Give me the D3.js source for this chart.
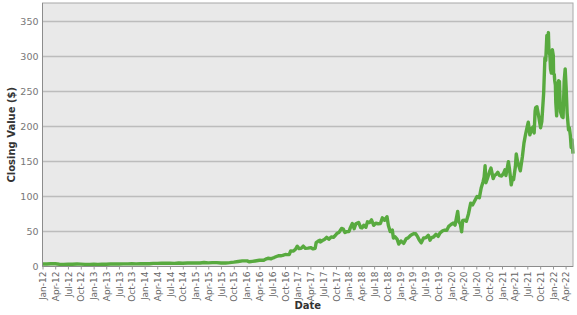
<!DOCTYPE html>
<html>
<head>
<meta charset="utf-8">
<script src="https://cdn.jsdelivr.net/npm/d3@7"></script>
<style>
  html, body { margin: 0; padding: 0; background: #fff; }
  svg { display: block; }
</style>
</head>
<body>
<div id="chart"></div>
<script>
// Closing values, split-adjusted, sampled from the daily series
const dates = [
  "2012-01-03","2012-02-01","2012-03-01","2012-04-02","2012-05-01","2012-06-01","2012-07-02","2012-08-01","2012-09-04","2012-10-01","2012-11-01","2012-12-03",
  "2013-01-02","2013-02-01","2013-03-01","2013-04-01","2013-05-01","2013-06-03","2013-07-01","2013-08-01","2013-09-03","2013-10-01","2013-11-01","2013-12-02",
  "2014-01-02","2014-02-03","2014-03-03","2014-04-01","2014-05-01","2014-06-02","2014-07-01","2014-08-01","2014-09-02","2014-10-01","2014-11-03","2014-12-01",
  "2015-01-02","2015-02-02","2015-03-02","2015-04-01","2015-05-01","2015-06-01","2015-07-01","2015-08-03","2015-09-01","2015-10-01","2015-11-02","2015-12-01",
  "2016-01-04","2016-01-20","2016-02-11","2016-03-01","2016-04-01","2016-04-22","2016-05-02","2016-05-16","2016-06-01","2016-06-24","2016-07-01","2016-07-15",
  "2016-08-01","2016-08-15","2016-09-01","2016-09-15","2016-10-03","2016-10-17","2016-11-01","2016-11-11","2016-12-01","2016-12-15","2016-12-28",
  "2017-01-10","2017-01-24","2017-02-09","2017-02-24","2017-03-15","2017-04-03","2017-04-20","2017-05-05","2017-05-12","2017-05-25","2017-06-08","2017-06-12",
  "2017-06-26","2017-07-10","2017-07-26","2017-08-11","2017-08-28","2017-09-12","2017-09-26","2017-10-10","2017-10-24","2017-11-10","2017-11-22","2017-12-04","2017-12-18",
  "2018-01-02","2018-01-12","2018-01-26","2018-02-08","2018-02-20","2018-03-12","2018-03-27","2018-04-06","2018-04-18","2018-05-03","2018-05-14","2018-05-30",
  "2018-06-12","2018-06-28","2018-07-13","2018-07-30","2018-08-15","2018-08-29","2018-09-14","2018-10-01","2018-10-11","2018-10-24","2018-11-08","2018-11-16",
  "2018-11-28","2018-12-12","2018-12-24",
  "2019-01-09","2019-01-28","2019-02-15","2019-03-01","2019-03-20","2019-04-12","2019-04-24","2019-05-08","2019-05-20","2019-06-03","2019-06-20","2019-07-05",
  "2019-07-24","2019-08-05","2019-08-16","2019-08-30","2019-09-16","2019-10-02","2019-10-16","2019-11-06","2019-11-20","2019-12-03","2019-12-17",
  "2020-01-02","2020-01-17","2020-01-31","2020-02-19","2020-02-27","2020-03-09","2020-03-18","2020-03-26","2020-04-09","2020-04-21","2020-05-06","2020-05-22",
  "2020-06-05","2020-06-19","2020-07-06","2020-07-23","2020-08-05","2020-08-19","2020-08-26","2020-09-02","2020-09-08","2020-09-21","2020-10-05","2020-10-14",
  "2020-10-30","2020-11-09","2020-11-20","2020-12-02","2020-12-15","2020-12-29",
  "2021-01-12","2021-01-22","2021-01-29","2021-02-16","2021-02-23","2021-03-04","2021-03-08","2021-03-18","2021-03-25","2021-04-07","2021-04-13","2021-04-22",
  "2021-05-04","2021-05-12","2021-05-27","2021-06-07","2021-06-18","2021-07-01","2021-07-08","2021-07-19","2021-08-02","2021-08-12","2021-08-19","2021-08-26",
  "2021-08-30","2021-09-08","2021-09-20","2021-10-04","2021-10-13","2021-10-26","2021-11-04","2021-11-10","2021-11-18","2021-11-23","2021-11-29","2021-12-03",
  "2021-12-10","2021-12-14","2021-12-20","2021-12-27",
  "2022-01-03","2022-01-05","2022-01-10","2022-01-13","2022-01-18","2022-01-21","2022-01-27","2022-02-02","2022-02-10","2022-02-16","2022-02-23","2022-03-07",
  "2022-03-14","2022-03-22","2022-03-29","2022-04-05","2022-04-12","2022-04-22","2022-04-28","2022-05-05","2022-05-11","2022-05-17","2022-05-24"
];
const closes = [
  3.5,3.6,3.85,3.85,3.3,3.1,3.45,3.3,3.5,3.35,3.0,3.05,
  3.15,3.1,3.15,3.2,3.5,3.6,3.55,3.7,3.8,3.9,3.8,3.9,
  3.95,3.85,4.5,4.5,4.6,4.8,4.65,4.5,4.9,4.6,4.9,5.2,
  5.0,5.0,5.7,5.2,5.5,5.5,5.0,5.0,5.5,6.2,7.1,8.0,
  8.0,6.7,7.3,7.9,8.9,9.1,8.9,10.5,11.7,11.0,11.8,12.8,
  14.3,15.3,15.4,15.8,17.1,16.9,17.2,22.3,22.0,24.6,29.0,
  25.5,25.8,29.0,25.8,26.3,27.0,25.1,26.0,34.0,35.9,37.5,35.0,
  37.0,38.5,41.6,39.0,42.2,41.5,44.2,47.5,49.0,54.3,53.4,48.5,49.7,
  49.9,55.4,61.4,54.0,60.8,62.8,55.4,55.0,58.9,56.0,63.7,62.8,
  66.5,58.7,61.7,61.0,61.3,69.4,66.0,71.0,58.5,49.8,52.0,40.6,
  42.3,39.2,32.0,
  36.5,33.0,39.5,40.8,44.6,47.0,46.7,42.6,37.7,33.7,40.8,40.8,
  44.5,37.5,41.3,42.1,45.9,43.0,47.9,51.3,52.0,51.6,57.3,
  59.9,61.9,59.1,78.6,64.0,60.5,49.5,65.8,66.2,64.6,75.0,90.4,
  88.0,93.5,100.0,98.2,112.0,121.3,127.5,143.7,119.5,127.1,136.0,140.4,
  125.4,130.0,131.4,134.5,129.6,129.2,
  133.0,138.0,129.9,149.6,140.0,124.5,116.5,127.0,124.0,143.0,160.5,150.0,
  142.0,136.5,157.0,176.0,188.0,200.0,206.0,187.8,197.0,199.5,190.5,222.0,
  226.8,228.0,215.0,198.0,207.0,247.2,297.5,294.0,329.8,317.0,333.8,306.0,
  301.0,282.0,276.0,309.5,
  301.2,275.0,274.0,265.5,259.0,233.7,215.0,251.0,265.0,264.0,221.0,213.5,
  212.6,265.0,282.0,255.0,219.0,195.0,197.8,187.0,169.8,181.0,161.0
];
const yTicks = [0, 50, 100, 150, 200, 250, 300, 350];
const xStart = "2012-01-01";
const xTickFormat = "%b-%y";

const W = 577, H = 315;
const margin = { top: 3, right: 4, bottom: 48.5, left: 42.5 };
const width = W - margin.left - margin.right;
const height = H - margin.top - margin.bottom;

const parse = d3.timeParse("%Y-%m-%d");
const data = dates.map((d, i) => ({ date: parse(d), value: closes[i] }));

const svg = d3.select("#chart").append("svg")
  .attr("width", W).attr("height", H);

const g = svg.append("g")
  .attr("transform", `translate(${margin.left},${margin.top})`);

const x = d3.scaleTime()
  .domain([parse(xStart), data[data.length - 1].date])
  .range([0, width]);

const y = d3.scaleLinear()
  .domain([0, 376])
  .range([height, 0]);

// plot background
g.append("rect")
  .attr("width", width).attr("height", height)
  .attr("fill", "#e9e9e9");

// horizontal gridlines
g.append("g")
  .selectAll("line")
  .data(yTicks.slice(1))
  .enter().append("line")
  .attr("x1", 0).attr("x2", width)
  .attr("y1", d => Math.round(y(d)) + 0.5).attr("y2", d => Math.round(y(d)) + 0.5)
  .attr("stroke", "#bcbcbc")
  .attr("stroke-width", 1.3);

// the series
const line = d3.line()
  .x(d => x(d.date))
  .y(d => y(d.value));

g.append("path")
  .datum(data)
  .attr("fill", "none")
  .attr("stroke", "#58aa3f")
  .attr("stroke-width", 3.4)
  .attr("stroke-linejoin", "round")
  .attr("d", line);

// frame
g.append("rect")
  .attr("width", width).attr("height", height)
  .attr("fill", "none")
  .attr("stroke", "#a8a8a8")
  .attr("stroke-width", 1);

// left and bottom axis lines (darker)
g.append("line")
  .attr("x1", 0).attr("x2", 0).attr("y1", 0).attr("y2", height)
  .attr("stroke", "#8c8c8c");
g.append("line")
  .attr("x1", 0).attr("x2", width).attr("y1", height).attr("y2", height)
  .attr("stroke", "#8c8c8c");

// y tick labels
const yAxis = g.append("g")
  .call(d3.axisLeft(y).tickValues(yTicks).tickSize(0).tickPadding(4));
yAxis.select(".domain").remove();
yAxis.selectAll("text")
  .style("font-family", "'DejaVu Sans', Verdana, sans-serif")
  .style("font-size", "9.5px")
  .style("fill", "#777");

// x axis, quarterly ticks, rotated labels
const xAxis = g.append("g")
  .attr("transform", `translate(0,${height})`)
  .call(d3.axisBottom(x)
    .ticks(d3.timeMonth.every(3))
    .tickFormat(d3.timeFormat(xTickFormat))
    .tickSize(3)
    .tickPadding(2));
xAxis.select(".domain").remove();
xAxis.selectAll("line").attr("stroke", "#999");
xAxis.selectAll("text")
  .attr("transform", "rotate(-90)")
  .attr("text-anchor", "end")
  .attr("x", -5)
  .attr("y", 0)
  .attr("dy", "0.35em")
  .style("font-family", "'DejaVu Sans', Verdana, sans-serif")
  .style("font-size", "9px")
  .style("fill", "#666");

// axis titles
svg.append("text")
  .attr("x", margin.left + width / 2)
  .attr("y", 309)
  .attr("text-anchor", "middle")
  .style("font-family", "'DejaVu Sans', Verdana, sans-serif")
  .style("font-size", "10px")
  .style("font-weight", "bold")
  .style("fill", "#333")
  .text("Date");

svg.append("text")
  .attr("transform", `translate(15,${margin.top + height / 2}) rotate(-90)`)
  .attr("text-anchor", "middle")
  .style("font-family", "'DejaVu Sans', Verdana, sans-serif")
  .style("font-size", "10px")
  .style("font-weight", "bold")
  .style("fill", "#333")
  .text("Closing Value ($)");
</script>
</body>
</html>
